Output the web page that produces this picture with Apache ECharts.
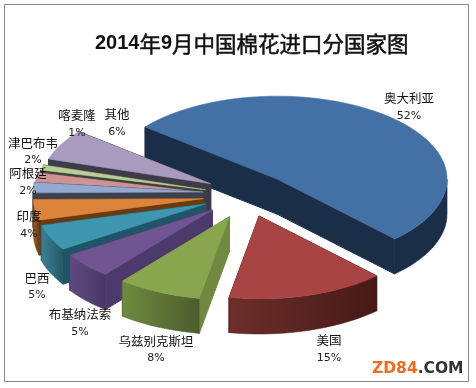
<!DOCTYPE html>
<html><head><meta charset="utf-8">
<style>html,body{margin:0;padding:0;background:#fff}#c{width:476px;height:388px}</style>
<script src="https://cdn.jsdelivr.net/npm/echarts@6/dist/echarts.min.js"></script>
</head><body><div id="c"></div>
<script>
const categories=['奥大利亚','美国','乌兹别克斯坦','布基纳法索','巴西','印度','阿根廷','津巴布韦','喀麦隆','其他'];
const shares=[52,15,8,5,5,4,2,2,1,6];
const topColors=['#4471A5','#A84543','#88A64D','#705592','#3F97AF','#DC8439','#93A9D0','#D19392','#B9CD96','#A99BBD'];
const wallFrom=['#1B2E48','#6E2E2C','#6F8A40','#5F4A80','#3A8296','#A85F20','#3C4150','#3C3C48','#3C4238','#3D3B48'];
const wallTo=['#1B2E48','#451A16','#4C5C2C','#4A3766','#245868','#6A3A10','#3C4150','#3C3C48','#3C4238','#3D3B48'];
const radialColors=['#1B2E48','#5A2624','#6F8A40','#4D3A6C','#1F5566','#6A3A10','#3C4150','#3C3C48','#3C4238','#3D3B48'];
const drawOrder=[0,9,8,7,6,5,4,3,2,1];
const labelPos=[[409,98,116],[329,340,358],[156,341,358],[80,314,332],[37,278,295],[29,216,234],[28,173,191],[33,143,160],[77,115,133],[117,114,132]];
const apexNudge=[[5,-6.5],[2.5,-2.7],[1,-1],[-3,-3],[-3,-4],[-2,-4],[-2,-7],[-2,-4],[-1,-5],[1,-7]];
const pie={cx:245,cy:200,rx:170,ry:83,depth:35,explode:40,start:-141};
const total=shares.reduce((a,b)=>a+b,0);
const rad=d=>d*Math.PI/180;
function sliceAngles(i){let s=0;for(let k=0;k<i;k++)s+=shares[k];
  const a0=pie.start+s/total*360;return [a0,a0+shares[i]/total*360];}
function arcPts(ax,ay,a0,a1,dy){const n=Math.max(2,Math.ceil((a1-a0)/3));const p=[];
  for(let k=0;k<=n;k++){const t=rad(a0+(a1-a0)*k/n);p.push([ax+pie.rx*Math.cos(t),ay+pie.ry*Math.sin(t)+dy]);}return p;}
function renderSlice(params,api){
  const i=api.value(0);const [a0,a1]=sliceAngles(i);const mid=rad((a0+a1)/2);
  const ax=pie.cx+pie.explode*Math.cos(mid)+apexNudge[i][0], ay=pie.cy+pie.explode*(pie.ry/pie.rx)*Math.sin(mid)+apexNudge[i][1];
  const d=pie.depth;const kids=[];
  const rim=arcPts(ax,ay,a0,a1,0);
  const walls=[a0,a1].map(a=>{const t=rad(a);const ex=ax+pie.rx*Math.cos(t),ey=ay+pie.ry*Math.sin(t);
    return {y:ey,pts:[[ax,ay],[ex,ey],[ex,ey+d],[ax,ay+d]]};}).sort((u,v)=>u.y-v.y);
  walls.forEach(w=>kids.push({type:'polygon',shape:{points:w.pts},style:{fill:radialColors[i],stroke:radialColors[i],lineWidth:1}}));
  let f0=Math.max(a0,0),f1=Math.min(a1,180);
  if(f1>f0){const top=arcPts(ax,ay,f0,f1,0);const bot=arcPts(ax,ay,f0,f1,d).reverse();
    const pts=top.concat(bot);
    kids.push({type:'polygon',shape:{points:pts},style:{lineWidth:.5,stroke:wallTo[i],
      fill:new echarts.graphic.LinearGradient(0,0,1,0,[{offset:0,color:wallFrom[i]},{offset:1,color:wallTo[i]}])}});}
  kids.push({type:'polygon',shape:{points:[[ax,ay]].concat(rim)},style:{fill:topColors[i],stroke:topColors[i],lineWidth:.5}});
  return {type:'group',children:kids};
}
function renderLabel(params,api){
  const i=api.value(0);const p=labelPos[i];
  return {type:'group',children:[
    {type:'text',style:{text:categories[i],x:p[0],y:p[1],align:'center',verticalAlign:'middle',fill:'#111',font:'12.5px "Noto Sans CJK SC"'}},
    {type:'text',style:{text:shares[i]+'%',x:p[0],y:p[2],align:'center',verticalAlign:'middle',fill:'#222',font:'11px "DejaVu Sans"'}}
  ]};
}
const chart=echarts.init(document.getElementById('c'),null,{renderer:'canvas'});
chart.setOption({
  animation:false,backgroundColor:'#fff',
  title:{left:90,top:28,
    text:'{b|2014}{c|年}{b|9}{c|月中国棉花进口分国家图}',
    textStyle:{rich:{
      b:{fontFamily:'Liberation Sans',fontWeight:'bold',fontSize:20,color:'#111'},
      c:{fontFamily:'Noto Sans CJK SC',fontWeight:'normal',fontSize:21.5,color:'#111',textBorderColor:'#111',textBorderWidth:.5}}}},
  graphic:[
    {type:'rect',shape:{x:4.5,y:4.5,width:464,height:377},style:{fill:'none',stroke:'#868686',lineWidth:1},z:-1},
    {type:'text',left:372,top:361,style:{rich:{o:{fill:'#F26A1B',font:'bold 15.5px "DejaVu Sans"'},g:{fill:'#333',font:'bold 15.5px "DejaVu Sans"'}},text:'{o|ZD84}{g|.COM}'},z:20}
  ],
  series:[
    {type:'custom',coordinateSystem:'none',silent:true,renderItem:renderSlice,data:drawOrder.map(i=>[i,shares[i]])},
    {type:'custom',coordinateSystem:'none',silent:true,z:5,renderItem:renderLabel,data:categories.map((c,i)=>[i,shares[i]])}
  ]
});
</script></body></html>
